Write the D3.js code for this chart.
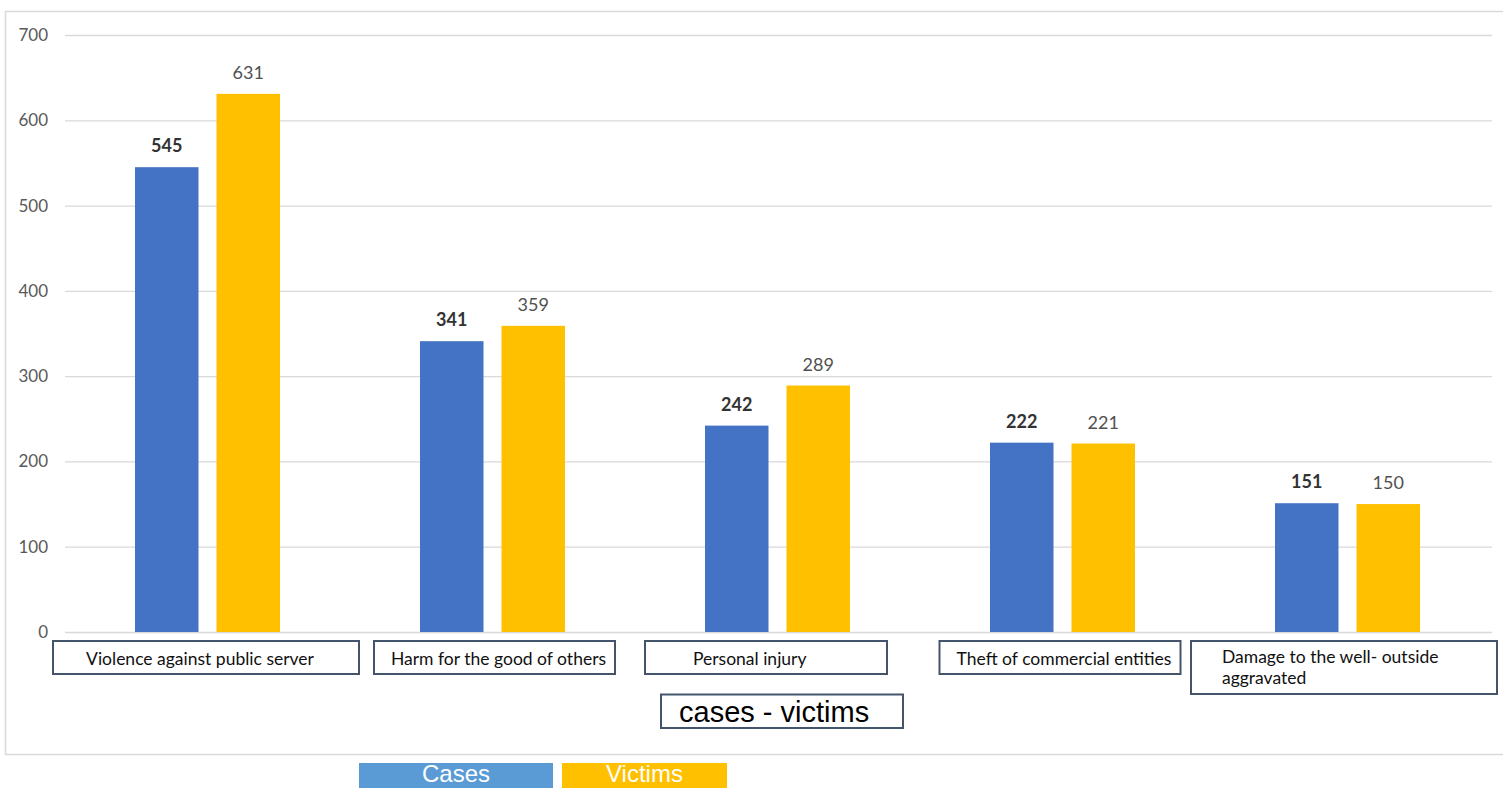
<!DOCTYPE html>
<html>
<head>
<meta charset="utf-8">
<script src="https://cdn.jsdelivr.net/npm/d3@7"></script>
<style>
  html, body { margin: 0; padding: 0; background: #fff; overflow: hidden; }
  svg { display: block; }
</style>
</head>
<body>
<svg id="chart" width="1503" height="788"></svg>
<script>
// ---- data ----
const categories = [
  "Violence against public server",
  "Harm for the good of others",
  "Personal injury",
  "Theft of commercial entities",
  "Damage to the well- outside aggravated"
];
const categoryLines = [
  ["Violence against public server"],
  ["Harm for the good of others"],
  ["Personal injury"],
  ["Theft of commercial entities"],
  ["Damage to the well- outside", "aggravated"]
];
const seriesNames = ["Cases", "Victims"];
const casesValues = [545, 341, 242, 222, 151];
const victimsValues = [631, 359, 289, 221, 150];
const yTicks = [0, 100, 200, 300, 400, 500, 600, 700];
const chartTitle = "cases - victims";

// ---- layout / style ----
const plot = { left: 65, right: 1490, top: 35, bottom: 632 };
const colors = { Cases: "#4472C4", Victims: "#FFC000" };
const legendColors = { Cases: "#5B9BD5", Victims: "#FFC000" };
const calib = "Lato, 'Open Sans', sans-serif";
const sans = "'Liberation Sans', Arial, sans-serif";
const boxLayout = [
  { dx: -1.5, w: 306, h: 33, align: "middle", tdx: -6 },
  { dx: 2,    w: 241, h: 33, align: "middle", tdx: 4 },
  { dx: -11.5,w: 242, h: 33, align: "start",  tx: 48 },
  { dx: -2.5, w: 241, h: 33, align: "middle", tdx: 4 },
  { dx: -3.5, w: 306, h: 53, align: "start",  tx: 31 }
];

const svg = d3.select("#chart");

// outer frame
svg.append("rect")
  .attr("x", 5.5).attr("y", 11.5)
  .attr("width", 1510).attr("height", 743)
  .attr("fill", "#fff")
  .attr("stroke", "#d9d9d9").attr("stroke-width", 1.5);

const x0 = d3.scaleBand().domain(categories).range([plot.left, plot.right]).paddingInner(0).paddingOuter(0);
const bw = x0.bandwidth();
const x1 = d3.scaleBand().domain(seriesNames).range([70, 215]).paddingInner(18 / 145 * 2 / (1 + 18 / 145)).paddingOuter(0);
const y = d3.scaleLinear().domain([0, 700]).range([plot.bottom, plot.top]);

// gridlines + y tick labels via axis
const yAxis = d3.axisLeft(y).tickValues(yTicks).tickSize(-(1492 - plot.left)).tickPadding(17).tickFormat(d3.format("d"));
const gy = svg.append("g").attr("transform", `translate(${plot.left},0)`).call(yAxis);
gy.select(".domain").remove();
gy.selectAll(".tick line").attr("stroke", "#d9d9d9").attr("stroke-width", 1.3);
gy.selectAll(".tick text")
  .attr("fill", "#595959")
  .style("font-family", calib)
  .style("font-size", "17px");

// bars
const rows = categories.map((c, i) => ({ cat: c, Cases: casesValues[i], Victims: victimsValues[i] }));
const groups = svg.append("g").selectAll("g").data(rows).join("g")
  .attr("transform", d => `translate(${x0(d.cat)},0)`);

groups.selectAll("rect").data(d => seriesNames.map(s => ({ s, v: d[s] }))).join("rect")
  .attr("x", d => x1(d.s))
  .attr("width", x1.bandwidth())
  .attr("y", d => y(d.v))
  .attr("height", d => y(0) - y(d.v))
  .attr("fill", d => colors[d.s]);

groups.selectAll("text.val").data(d => seriesNames.map(s => ({ s, v: d[s] }))).join("text")
  .attr("class", "val")
  .attr("x", d => x1(d.s) + x1.bandwidth() / 2)
  .attr("y", d => y(d.v) - 15)
  .attr("text-anchor", "middle")
  .attr("fill", d => d.s === "Cases" ? "#333" : "#505050")
  .style("font-family", calib)
  .style("font-weight", d => d.s === "Cases" ? "700" : "400")
  .style("font-size", "18px")
  .text(d => d.v);

// category boxes
const boxG = svg.append("g").selectAll("g").data(categories).join("g");
boxG.each(function (c, i) {
  const L = boxLayout[i];
  const cx = x0(c) + bw / 2 + L.dx;
  const bx = cx - L.w / 2, by = 641;
  const g = d3.select(this);
  g.append("rect")
    .attr("x", bx).attr("y", by).attr("width", L.w).attr("height", L.h)
    .attr("fill", "#fff").attr("stroke", "#44546A").attr("stroke-width", 2);
  const lines = categoryLines[i];
  const t = g.append("text")
    .attr("fill", "#111")
    .style("font-family", calib)
    .style("font-size", "17.5px")
    .attr("text-anchor", L.align);
  const tx = L.align === "middle" ? cx + (L.tdx || 0) : bx + L.tx;
  lines.forEach((ln, k) => {
    t.append("tspan").attr("x", tx).attr("y", (lines.length > 1 ? 663 : 665) + k * 21).text(ln);
  });
});

// chart title box
svg.append("rect").attr("x", 661).attr("y", 694.5).attr("width", 242).attr("height", 33.5)
  .attr("fill", "#fff").attr("stroke", "#44546A").attr("stroke-width", 2);
svg.append("text").attr("x", 679).attr("y", 722)
  .attr("fill", "#000")
  .style("font-family", sans).style("font-size", "29px")
  .text(chartTitle);

// legend
const legendLayout = [{ x: 359, w: 194 }, { x: 562, w: 165 }];
const lg = svg.append("g").selectAll("g").data(seriesNames).join("g");
lg.append("rect")
  .attr("x", (d, i) => legendLayout[i].x).attr("y", 763)
  .attr("width", (d, i) => legendLayout[i].w).attr("height", 40)
  .attr("fill", d => legendColors[d]);
lg.append("text")
  .attr("x", (d, i) => legendLayout[i].x + legendLayout[i].w / 2)
  .attr("y", 782)
  .attr("text-anchor", "middle")
  .attr("fill", "#fff")
  .style("font-family", sans).style("font-size", "24px")
  .text(d => d);
</script>
</body>
</html>
